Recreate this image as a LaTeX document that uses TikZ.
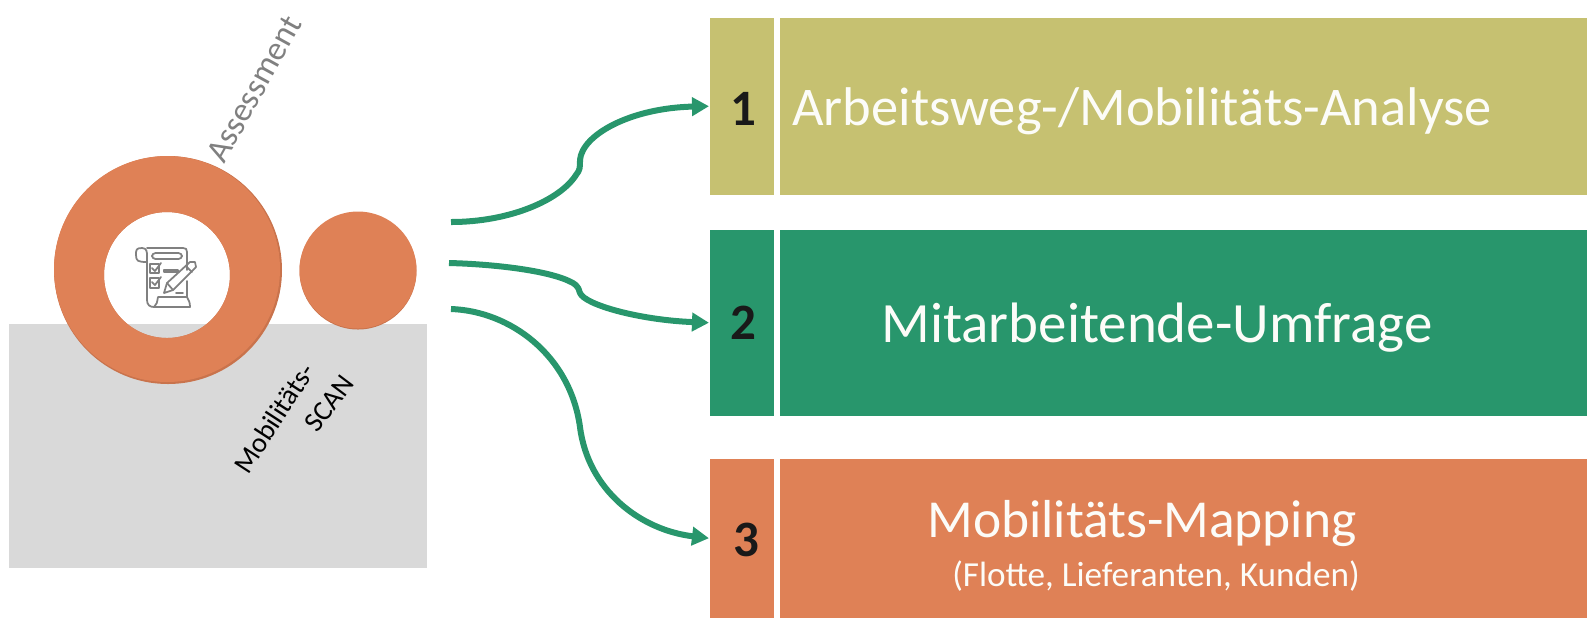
\documentclass[tikz,border=0pt]{standalone}
\usepackage{fontspec}
\setmainfont{Carlito}
\usetikzlibrary{arrows.meta}
\definecolor{olivebox}{HTML}{C6C171}
\definecolor{greenbox}{HTML}{28966C}
\definecolor{orangebox}{HTML}{DF8156}
\definecolor{orangedark}{HTML}{C9734C}
\definecolor{scangray}{HTML}{D9D9D9}
\definecolor{icongray}{HTML}{808080}
\tikzset{
    barbox/.style={fill=#1, inner sep=0pt, anchor=north west},
    numlabel/.style={font=\fontsize{14.5}{16}\selectfont\bfseries, text=black!90},
    titlelabel/.style={text=white!95!olivebox, inner sep=0pt},
    flow/.style={line width=0.06cm, greenbox, -{Triangle[length=0.17cm,width=0.18cm]}},
    iconline/.style={icongray, line width=0.5pt, line join=round, line cap=round}
}

\begin{document}
\begin{tikzpicture}[x=0.01cm, y=-0.01cm]
    \useasboundingbox (0,0) rectangle (1587,617);
    % scan area and circles
    \fill[scangray] (9,324) rectangle (427,568);
    \fill[orangedark, even odd rule] (168,270) circle (114) (167,275) circle (63);
    \fill[orangebox, even odd rule] (167,269) circle (113) (167,275) circle (63);
    \fill[orangedark] (358,271) circle (58.5);
    \fill[orangebox] (358,270) circle (58.5);
    \node[rotate=61, text=gray, font=\fontsize{9.6}{12}\selectfont] (assess) at (254,89) {Assessment};
    \node[rotate=57, font=\fontsize{8}{10}\selectfont] (scanA) at (274,418) {Mobilitäts-};
    \node[rotate=53, font=\fontsize{8}{10}\selectfont] (scanB) at (329,403) {SCAN};
    % icon
    \begin{scope}[iconline]
        \draw (147,248) -- (183,248) .. controls (186,248) and (187,249) .. (187,252) -- (187,270);
        \draw (187,281) -- (187,297) -- (158,297) .. controls (157,302) and (157,305) .. (154,307);
        \draw (142,248) .. controls (136,248) and (136,250) .. (136,255) .. controls (136,261) and (138,262) .. (147,262);
        \draw (142,248) .. controls (147,248) and (147,252) .. (147,256) -- (147,300) .. controls (147,305) and (150,307) .. (154,307) -- (190,307) .. controls (190,303) and (189,300) .. (187,297);
        \draw[rounded corners=1pt] (152,253) rectangle (182,259);
        \draw (150,264) rectangle (159,273);
        \draw (150,278) rectangle (159,288);
        \draw (152,268) -- (155,271) -- (161,263);
        \draw (152,282) -- (155,285) -- (161,277);
        \draw (164,270) rectangle (178,272);
        \draw (164,293) -- (167,283) -- (190,262) -- (195,262) -- (196,267) -- (173,290) -- cycle;
        \draw (186,266) -- (192,272);
        \draw (167,283) -- (173,290);
        \draw (176,293) -- (183,293);
    \end{scope}
    % boxes on the right
    \foreach \name/\col/\top/\high/\xtxt/\ytxt in {1/olivebox/17/177/743/109, 2/greenbox/229/186/743/323, 3/orangebox/458/159/746/540} {
        \node[barbox=\col, minimum width=0.64cm, minimum height=\high*0.01cm] (num\name) at (709,\top) {};
        \node[barbox=\col, minimum width=8.08cm, minimum height=\high*0.01cm] (bar\name) at (779,\top) {};
        \node[numlabel] (digit\name) at (\xtxt,\ytxt) {\name};
    }
    \node[titlelabel, font=\fontsize{15.5}{18}\selectfont] (title1) at (1142,111) {Arbeitsweg-/Mobilitäts-Analyse};
    \node[titlelabel, font=\fontsize{16.2}{18}\selectfont] (title2) at (1157,328) {Mitarbeitende-Umfrage};
    \node[titlelabel, font=\fontsize{15.2}{18}\selectfont] (title3) at (1142,524) {Mobilitäts-Mapping};
    \node[titlelabel, font=\fontsize{10}{12}\selectfont] (sub3) at (1156,576) {(Flotte, Lieferanten, Kunden)};
    % connectors
    \coordinate (from1) at (451,222);
    \coordinate (from2) at (449,263);
    \coordinate (from3) at (451,309);
    \draw[flow] (from1) .. controls (510,222) and (560,200) .. (576,175) .. controls (580,170) and (580,168) .. (580,160) .. controls (582,135) and (630,108) .. (num1.west);
    \draw[flow] (from2) .. controls (490,264) and (550,270) .. (573,283) .. controls (579,287) and (579,290) .. (580,293) .. controls (585,305) and (640,320) .. (num2.west);
    \draw[flow] (from3) .. controls (510,311) and (570,355) .. (580,427) .. controls (588,490) and (640,530) .. (num3.west);
\end{tikzpicture}
\end{document}
